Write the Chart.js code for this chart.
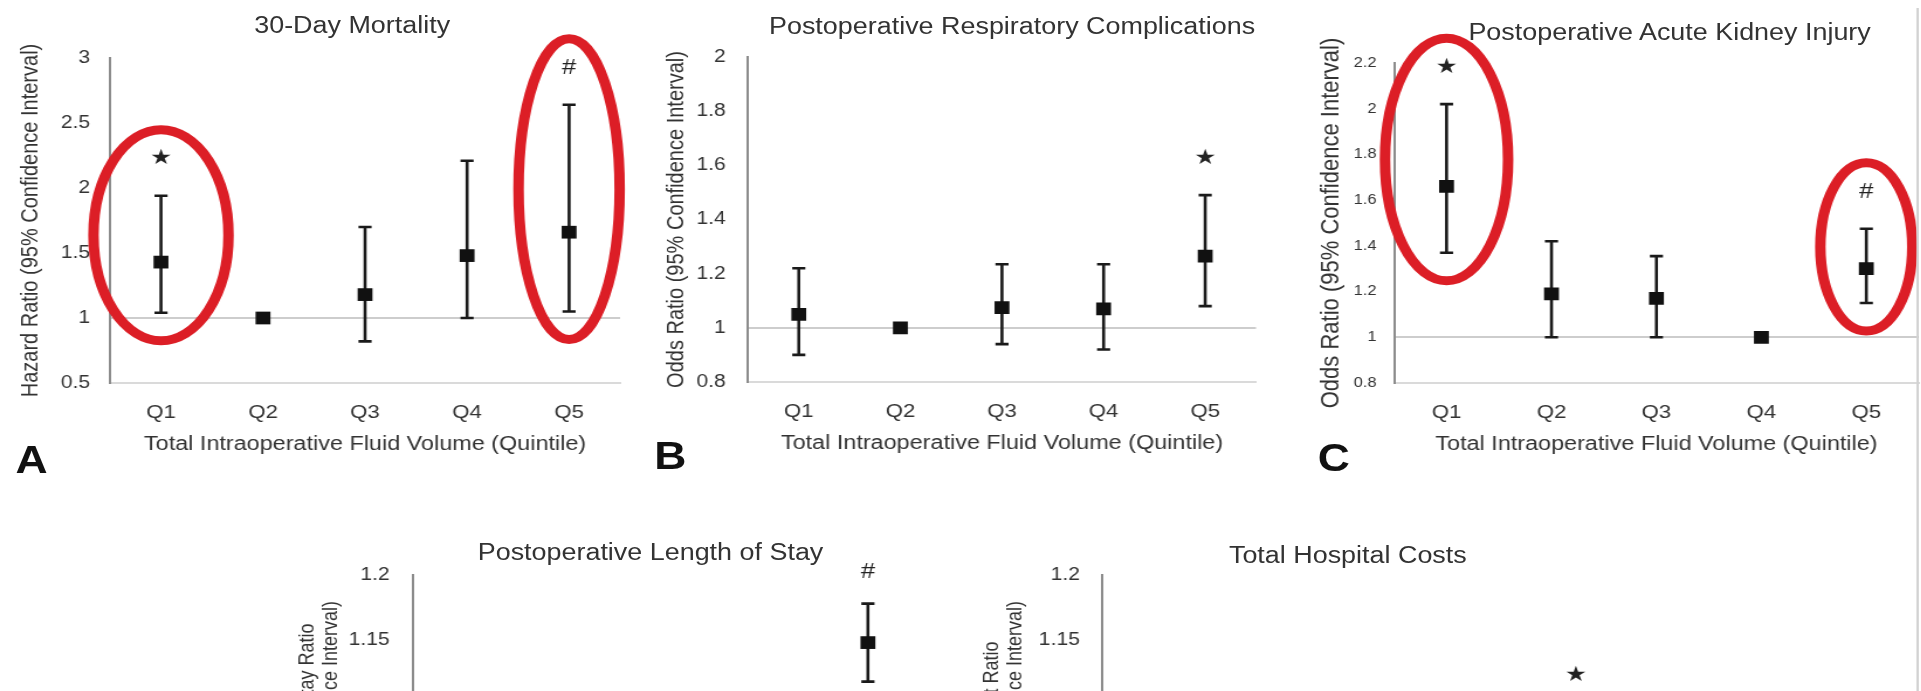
<!DOCTYPE html>
<html lang="en">
<head>
<meta charset="UTF-8">
<title>Intraoperative Fluid Volume and Outcomes</title>
<script src="https://cdn.jsdelivr.net/npm/chart.js"></script>
<style>
  html, body { margin: 0; padding: 0; background: #fff; overflow: hidden; }
  /* the figure is laid out 1642 wide and stretched to the 1921 window */
  #figure { position: relative; width: 1642px; height: 691px; transform: scaleX(1.17); transform-origin: 0 0;
            font-family: "Liberation Sans", Arial, sans-serif; }
  #figure canvas { position: absolute; }
  .title { position: absolute; transform: translate(-50%, -50%); white-space: nowrap; font-size: 23px; line-height: 1; color: #333; }
  .letter { position: absolute; transform: translate(-50%, -50%); font-size: 38px; font-weight: bold; line-height: 1; color: #111; }
  #edge { position: absolute; left: 1638px; top: 8px; width: 1.5px; height: 683px; background: #d2d2d2; }
</style>
</head>
<body>
<div id="figure">
  <canvas id="mort" width="560" height="470" style="left:0;top:0"></canvas>
  <canvas id="resp" width="560" height="470" style="left:560px;top:0"></canvas>
  <canvas id="aki" width="522" height="470" style="left:1120px;top:0"></canvas>
  <canvas id="los" width="640" height="422" style="left:220px;top:500px"></canvas>
  <canvas id="cost" width="640" height="422" style="left:800px;top:500px"></canvas>

  <div class="title" style="left:301px;top:25px">30-Day Mortality</div>
  <div class="title" style="left:865px;top:26px">Postoperative Respiratory Complications</div>
  <div class="title" style="left:1427px;top:32px">Postoperative Acute Kidney Injury</div>
  <div class="title" style="left:556px;top:552px">Postoperative Length of Stay</div>
  <div class="title" style="left:1152px;top:555px">Total Hospital Costs</div>

  <div class="letter" style="left:27px;top:460px">A</div>
  <div class="letter" style="left:573px;top:456px">B</div>
  <div class="letter" style="left:1140px;top:458px">C</div>
  <div id="edge"></div>
</div>

<script>
// categories
const quintiles = ['Q1', 'Q2', 'Q3', 'Q4', 'Q5'];
const xAxisTitle = 'Total Intraoperative Fluid Volume (Quintile)';

// 30-day mortality, hazard ratios (Q2 = reference)
const mortHR = [1.43, 1.00, 1.18, 1.48, 1.66];
const mortLo = [1.04, null, 0.82, 1.00, 1.05];
const mortHi = [1.94, null, 1.70, 2.21, 2.64];
const mortSig = ['★', '', '', '', '#'];

// respiratory complications, odds ratios (Q2 = reference)
const respOR = [1.05, 1.00, 1.075, 1.07, 1.265];
const respLo = [0.90, null, 0.94, 0.92, 1.08];
const respHi = [1.22, null, 1.235, 1.235, 1.49];
const respSig = ['', '', '', '', '★'];

// acute kidney injury, odds ratios (Q4 = reference)
const akiOR = [1.66, 1.19, 1.17, 1.00, 1.30];
const akiLo = [1.37, 1.00, 1.00, null, 1.15];
const akiHi = [2.02, 1.42, 1.355, null, 1.475];
const akiSig = ['★', '', '', '', '#'];

// length of stay ratio (only the top of this panel is in the picture)
const losRatio = [1.02, 1.00, 1.01, 1.04, 1.148];
const losLo = [0.99, null, 0.98, 1.01, 1.118];
const losHi = [1.05, null, 1.04, 1.07, 1.178];
const losSig = ['', '', '', '', '#'];

// hospital cost ratio (only the top of this panel is in the picture)
const costRatio = [1.04, 1.00, 1.02, 1.03, 1.066];
const costLo = [1.01, null, 0.99, 1.00, 1.04];
const costHi = [1.07, null, 1.05, 1.06, 1.094];
const costSig = ['', '', '', '', '★'];

Chart.defaults.font.family = '"Liberation Sans", Arial, sans-serif';
Chart.defaults.color = '#333';

// error bars, significance marks and the red rings
function overlay(lo, hi, vals, sig, rings, markGap) {
  return {
    id: 'overlay',
    beforeDatasetsDraw(chart) {
      const { ctx, scales: { x, y } } = chart;
      ctx.save();
      ctx.strokeStyle = '#1a1a1a';
      ctx.lineWidth = 2.6;
      lo.forEach((l, i) => {
        const h = hi[i];
        if (l == null || h == null) return;
        const px = x.getPixelForValue(i);
        const y1 = y.getPixelForValue(l), y2 = y.getPixelForValue(h);
        ctx.beginPath();
        ctx.moveTo(px, y1); ctx.lineTo(px, y2);
        ctx.moveTo(px - 5.6, y1); ctx.lineTo(px + 5.6, y1);
        ctx.moveTo(px - 5.6, y2); ctx.lineTo(px + 5.6, y2);
        ctx.stroke();
      });
      ctx.restore();
    },
    afterDatasetsDraw(chart) {
      const { ctx, scales: { x, y } } = chart;
      ctx.save();
      ctx.textAlign = 'center';
      ctx.textBaseline = 'middle';
      ctx.fillStyle = '#222';
      sig.forEach((s, i) => {
        if (!s) return;
        const top = y.getPixelForValue(hi[i] != null ? hi[i] : vals[i]);
        ctx.font = s === '★' ? '21px "DejaVu Sans"' : '22px "Liberation Sans"';
        ctx.fillText(s, x.getPixelForValue(i), top - markGap);
      });
      ctx.strokeStyle = '#dc1e26';
      ctx.lineWidth = 9;
      rings.forEach(r => {
        const i = r.index;
        const top = y.getPixelForValue(hi[i] != null ? hi[i] : vals[i]) - 66;
        const bottom = y.getPixelForValue(lo[i] != null ? lo[i] : vals[i]) + 28;
        ctx.beginPath();
        ctx.ellipse(x.getPixelForValue(i), (top + bottom) / 2, r.halfWidth, (bottom - top) / 2, 0, 0, Math.PI * 2);
        ctx.stroke();
      });
      ctx.restore();
    }
  };
}

const shortNum = v => String(Number(v.toFixed(2)));

function panel(id, p) {
  new Chart(document.getElementById(id), {
    type: 'line',
    data: {
      labels: quintiles,
      datasets: [{
        data: p.vals,
        showLine: false,
        pointStyle: 'rect',
        pointRadius: 9,
        pointHoverRadius: 9,
        pointBorderWidth: 0,
        backgroundColor: '#111',
        borderColor: '#111'
      }]
    },
    options: {
      responsive: false,
      animation: false,
      events: [],
      layout: { autoPadding: false, padding: p.pad },
      plugins: { legend: { display: false }, tooltip: { enabled: false } },
      scales: {
        x: {
          offset: true,
          grid: { display: false, drawTicks: false },
          border: { color: '#dadada', width: 2 },
          ticks: { font: { size: 19 }, padding: 18, maxRotation: 0 },
          title: { display: true, text: xAxisTitle, font: { size: 20 }, padding: 0 },
          afterFit: s => { s.height = 73; }
        },
        y: {
          min: p.min, max: p.max,
          ticks: { stepSize: p.step, font: { size: p.tickSize }, padding: p.tickPad, callback: shortNum },
          grid: {
            drawTicks: false,
            lineWidth: 2,
            color: c => (c.tick && Math.abs(c.tick.value - 1) < 1e-6) ? '#cdcdcd' : 'rgba(0,0,0,0)'
          },
          border: { color: '#8c8c8c', width: 2 },
          title: { display: true, text: p.yTitle, font: p.yFont, padding: 0 },
          afterFit: s => { s.width = p.yWidth; }
        }
      }
    },
    plugins: [overlay(p.lo, p.hi, p.vals, p.sig, p.rings, p.markGap || 37)]
  });
}

panel('mort', {
  vals: mortHR, lo: mortLo, hi: mortHi, sig: mortSig,
  rings: [{ index: 0, halfWidth: 57.7 }, { index: 4, halfWidth: 43.2 }],
  min: 0.5, max: 3, step: 0.5, tickSize: 18, tickPad: 17,
  yTitle: 'Hazard Ratio (95% Confidence Interval)', yFont: { size: 20 },
  pad: { left: 14.5, right: 30, top: 58, bottom: 14 }, yWidth: 79.5
});

panel('resp', {
  vals: respOR, lo: respLo, hi: respHi, sig: respSig, rings: [],
  min: 0.8, max: 2, step: 0.2, tickSize: 18, tickPad: 19,
  yTitle: 'Odds Ratio (95% Confidence Interval)', yFont: { size: 20 },
  pad: { left: 6.6, right: 46.5, top: 57, bottom: 15 }, yWidth: 72.7
});

panel('aki', {
  vals: akiOR, lo: akiLo, hi: akiHi, sig: akiSig,
  rings: [{ index: 0, halfWidth: 52.6 }, { index: 4, halfWidth: 39.3 }],
  min: 0.8, max: 2.2, step: 0.2, tickSize: 14, tickPad: 15,
  yTitle: 'Odds Ratio (95% Confidence Interval)', yFont: { size: 22 },
  pad: { left: 4.4, right: 2, top: 63, bottom: 14 }, yWidth: 67.1
});

panel('los', {
  vals: losRatio, lo: losLo, hi: losHi, sig: losSig, rings: [], markGap: 32,
  min: 1, max: 1.2, step: 0.05, tickSize: 18, tickPad: 20,
  yTitle: ['Length of Stay Ratio', '(95% Confidence Interval)'], yFont: { size: 18, lineHeight: 1.1 },
  pad: { left: 33, right: 75, top: 75, bottom: 14 }, yWidth: 100
});

panel('cost', {
  vals: costRatio, lo: costLo, hi: costHi, sig: costSig, rings: [],
  min: 1, max: 1.2, step: 0.05, tickSize: 18, tickPad: 19,
  yTitle: ['Total Cost Ratio', '(95% Confidence Interval)'], yFont: { size: 18, lineHeight: 1.1 },
  pad: { left: 38, right: 48, top: 75, bottom: 14 }, yWidth: 103.9
});
</script>
</body>
</html>
